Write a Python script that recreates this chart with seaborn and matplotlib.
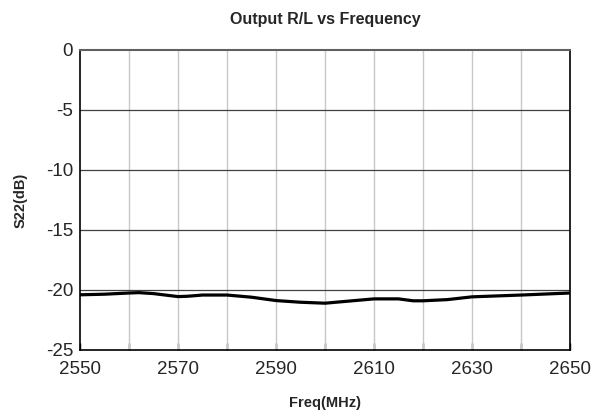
import matplotlib
matplotlib.use("Agg")
import matplotlib.pyplot as plt
import seaborn as sns
import pandas as pd

freq_mhz = [2550, 2555, 2560, 2562, 2565, 2570, 2572, 2575, 2580, 2585, 2590,
            2595, 2600, 2605, 2610, 2615, 2618, 2620, 2625, 2630, 2640, 2650]
s22_db = [-20.4, -20.35, -20.25, -20.22, -20.3, -20.55, -20.52, -20.42, -20.42,
          -20.6, -20.88, -21.02, -21.1, -20.92, -20.74, -20.74, -20.9, -20.9,
          -20.8, -20.57, -20.42, -20.25]
x_ticks = [2550, 2560, 2570, 2580, 2590, 2600, 2610, 2620, 2630, 2640, 2650]
x_labels = ["2550", "", "2570", "", "2590", "", "2610", "", "2630", "", "2650"]
y_ticks = [0, -5, -10, -15, -20, -25]

sns.set_style("white")
plt.rcParams['font.family'] = ['Liberation Sans', 'DejaVu Sans']
plt.rcParams['axes.unicode_minus'] = False

df = pd.DataFrame({"Freq": freq_mhz, "S22": s22_db})

fig = plt.figure(figsize=(5.95, 4.17), dpi=100)
ax = fig.add_axes([80/595, 1-350/417, 490/595, 300/417])

for xv in x_ticks[1:-1]:
    ax.axvline(xv, color="#c8c8c8", lw=1.0, zorder=1)
for yv in y_ticks[1:-1]:
    ax.axhline(yv, color="#404040", lw=0.9, zorder=1)

sns.lineplot(data=df, x="Freq", y="S22", ax=ax, color="black", lw=2.3, zorder=3)

ax.set_xlim(2550, 2650)
ax.set_ylim(-25, 0)
ax.set_xticks(x_ticks)
ax.set_xticklabels(x_labels)
ax.set_yticks(y_ticks)
ax.tick_params(axis="x", direction="in", length=5, width=1, color="black",
               labelsize=13.5, pad=8, bottom=True)
ax.tick_params(axis="y", length=0, labelsize=13.5, pad=5, left=False)

for s in ["left", "bottom", "right"]:
    ax.spines[s].set_color("black")
    ax.spines[s].set_linewidth(1.2)
ax.spines["top"].set_color("#606060")
ax.spines["top"].set_linewidth(1.5)

ax.set_xlabel("Freq(MHz)", fontsize=10.5, fontweight="bold", labelpad=13)
ax.set_ylabel("S22(dB)", fontsize=10.5, fontweight="bold", labelpad=13)
ax.set_title("Output R/L vs Frequency", fontsize=11.5, fontweight="bold", pad=19)

fig.savefig("out.png", dpi=100)
